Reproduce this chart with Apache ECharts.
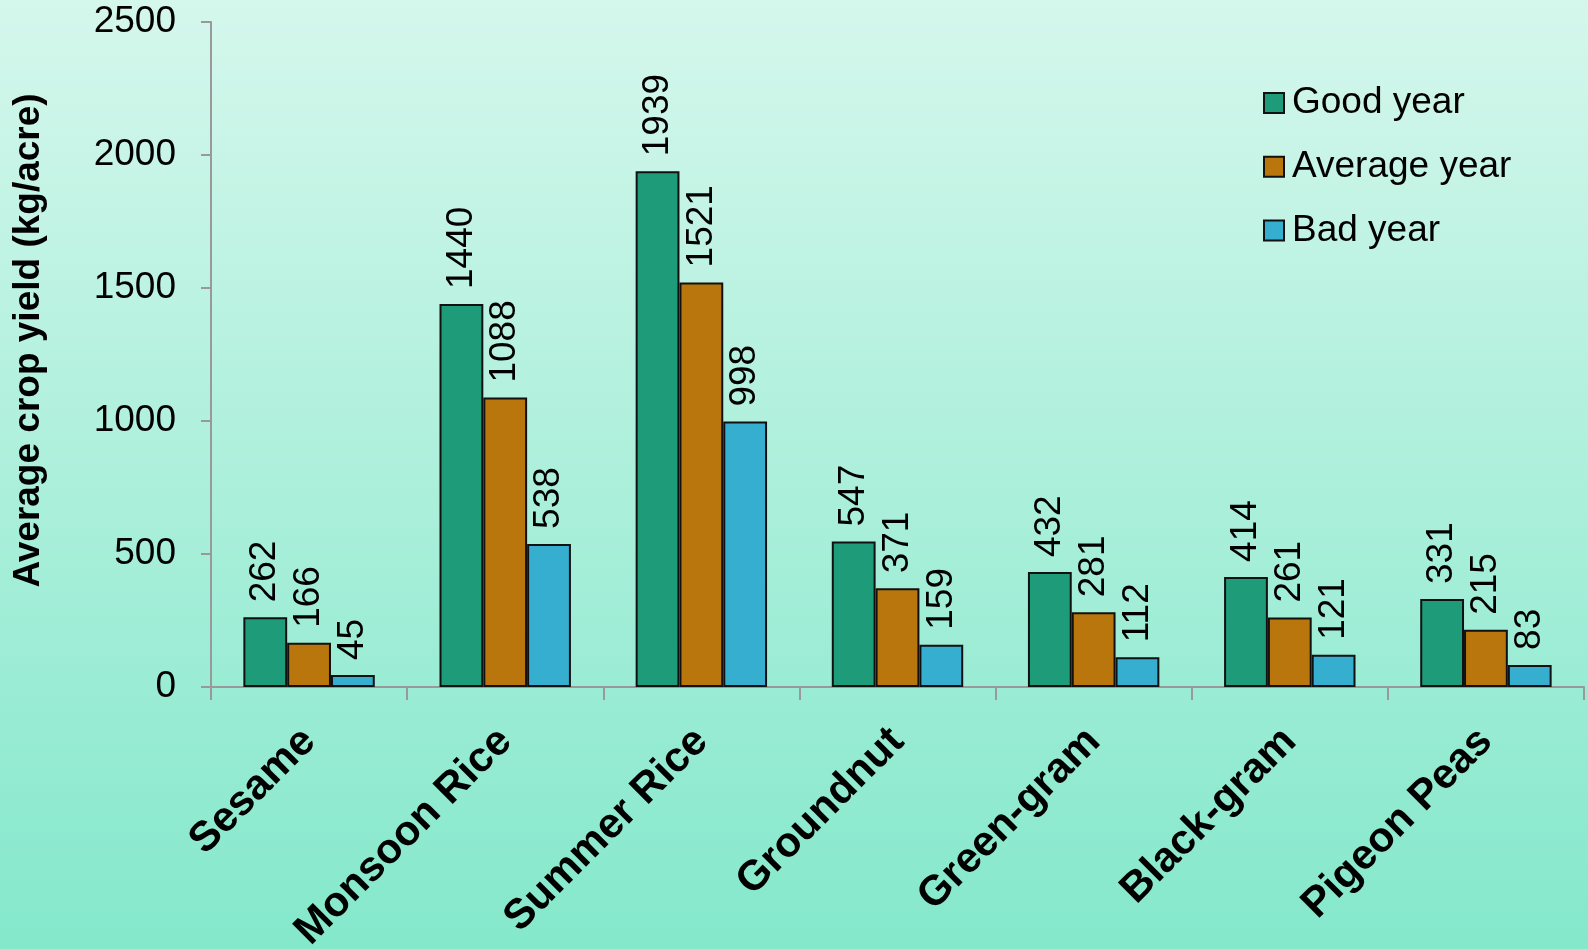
<script src="https://cdn.jsdelivr.net/npm/echarts@6/dist/echarts.min.js"></script>
<style>html,body{margin:0;padding:0;width:100%;height:100%;}</style>
<div id="main" style="width:1588px;height:949px;margin:0;padding:0;"></div>
<script>
    var categories = ['Sesame', 'Monsoon Rice', 'Summer Rice', 'Groundnut', 'Green-gram', 'Black-gram', 'Pigeon Peas'];
    var goodYear = [262, 1440, 1939, 547, 432, 414, 331];
    var averageYear = [166, 1088, 1521, 371, 281, 261, 215];
    var badYear = [45, 538, 998, 159, 112, 121, 83];
    var seriesNames = ['Good year', 'Average year', 'Bad year'];
    var colors = ['#1e9b78', '#b8760c', '#36aed0'];

    var FONT = '"Liberation Sans", Arial, sans-serif';
    var myChart = echarts.init(document.getElementById('main'));

    function barSeries(name, data, color) {
        return {
            name: name,
            type: 'bar',
            data: data,
            barGap: 0,
            barCategoryGap: '33%',
            itemStyle: { color: color, borderColor: '#111', borderWidth: 2 },
            label: {
                show: true,
                position: 'top',
                rotate: 90,
                align: 'left',
                verticalAlign: 'middle',
                distance: 15,
                color: '#000',
                fontSize: 37,
                fontFamily: FONT
            }
        };
    }

    var option = {
        animation: false,
        backgroundColor: {
            type: 'linear', x: 0, y: 0, x2: 0, y2: 1,
            colorStops: [
                { offset: 0, color: '#d5f7ec' },
                { offset: 1, color: '#84e8cb' }
            ]
        },
        color: colors,
        grid: { left: 211, right: 4, top: 22, bottom: 262, containLabel: false, outerBoundsMode: 'none' },
        legend: {
            orient: 'vertical',
            left: 1258,
            top: 66,
            itemWidth: 20,
            itemHeight: 20,
            itemGap: 0,
            icon: 'rect',
            itemStyle: { borderColor: '#111', borderWidth: 2 },
            textStyle: { fontSize: 37, lineHeight: 40, color: '#000', fontFamily: FONT, padding: [0, 0, 0, 3] },
            data: seriesNames
        },
        xAxis: {
            type: 'category',
            data: categories,
            axisLine: { lineStyle: { color: '#999', width: 2 } },
            axisTick: { show: true, length: 13, lineStyle: { color: '#999', width: 2 } },
            axisLabel: {
                rotate: 45,
                margin: 48,
                color: '#000',
                fontSize: 42,
                fontWeight: 'bold',
                fontFamily: FONT,
                interval: 0
            }
        },
        yAxis: {
            type: 'value',
            min: 0,
            max: 2500,
            interval: 500,
            name: 'Average crop yield (kg/acre)',
            nameLocation: 'middle',
            nameGap: 150,
            nameTextStyle: { fontSize: 37, fontWeight: 'bold', color: '#000', fontFamily: FONT, padding: [0, 0, 0, 28] },
            splitLine: { show: false },
            axisLine: { show: true, lineStyle: { color: '#999', width: 2 } },
            axisTick: { show: true, length: 10, lineStyle: { color: '#999', width: 2 } },
            axisLabel: {
                margin: 35, color: '#000', fontSize: 37, fontFamily: FONT,
                formatter: function (v) { return String(v); }
            }
        },
        series: [
            barSeries(seriesNames[0], goodYear, colors[0]),
            barSeries(seriesNames[1], averageYear, colors[1]),
            barSeries(seriesNames[2], badYear, colors[2])
        ]
    };

    myChart.setOption(option);

    window.onresize = function () {
        myChart.resize();
    }
</script>
